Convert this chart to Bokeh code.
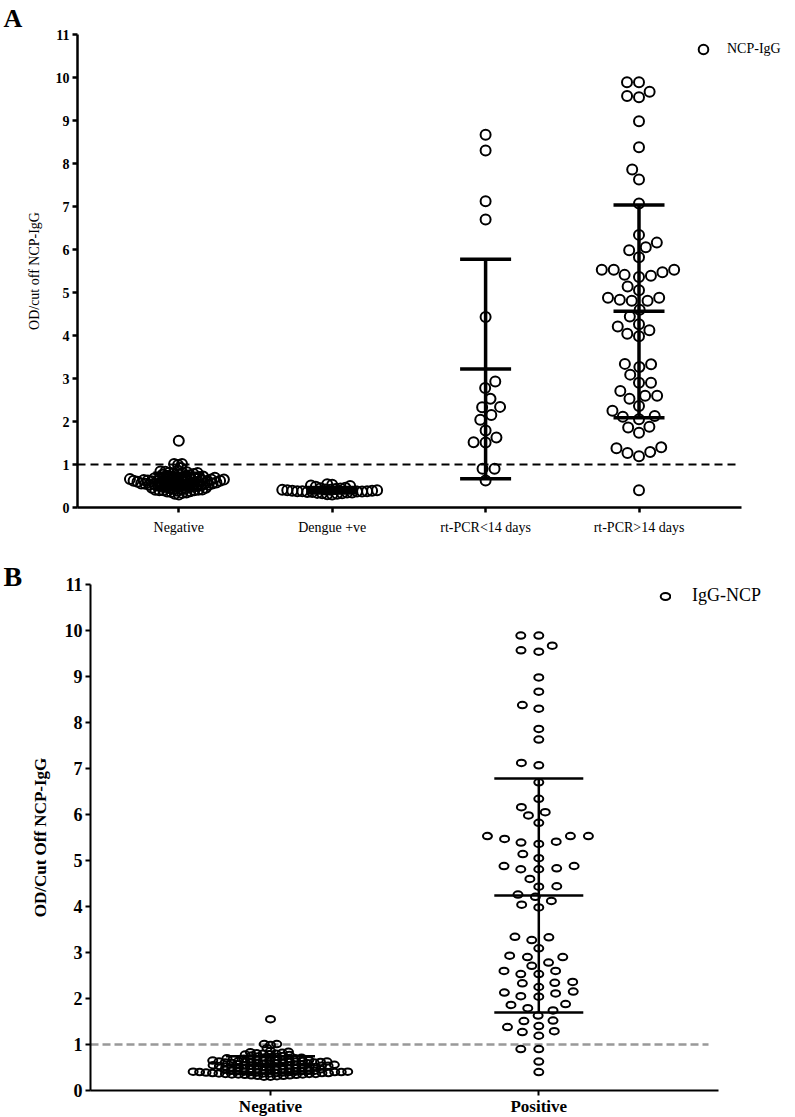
import numpy as np
from bokeh.plotting import figure
from bokeh.models import FixedTicker, Legend, LegendItem, ColumnDataSource
from bokeh.embed import file_html
from bokeh.resources import INLINE

# ---------------- data ----------------
categories_A = ["Negative", "Dengue +ve", "rt-PCR<14 days", "rt-PCR>14 days"]
categories_B = ["Negative", "Positive"]

negative = [1.55, 1.01, 0.99, 1.01, 0.92, 0.86,
            0.84, 0.83, 0.82, 0.81, 0.80, 0.80,
            0.79, 0.78, 0.77, 0.76, 0.75, 0.74, 0.73, 0.72, 0.72, 0.71, 0.70, 0.70,
            0.69, 0.69, 0.68, 0.68, 0.67, 0.67, 0.66, 0.66, 0.65, 0.65, 0.65, 0.64, 0.64,
            0.63, 0.63, 0.63, 0.62, 0.62, 0.62, 0.61, 0.61, 0.61, 0.60, 0.60, 0.60,
            0.59, 0.59, 0.58, 0.58, 0.57, 0.57, 0.56, 0.56, 0.55, 0.55, 0.55, 0.54, 0.54,
            0.53, 0.53, 0.52, 0.52, 0.51, 0.51, 0.50, 0.50, 0.50,
            0.49, 0.48, 0.47, 0.46, 0.46, 0.45, 0.44, 0.43, 0.43, 0.42, 0.41, 0.41, 0.40, 0.40, 0.40,
            0.39, 0.38, 0.37, 0.36, 0.35, 0.34, 0.32, 0.30]

dengue = [0.30, 0.31, 0.32, 0.33, 0.33, 0.34, 0.35, 0.35, 0.36, 0.36, 0.37, 0.37, 0.38, 0.38,
          0.38, 0.39, 0.39, 0.40, 0.40, 0.41, 0.41, 0.42, 0.43, 0.44, 0.45, 0.46, 0.48, 0.50,
          0.51, 0.53, 0.54]

pcr_lt14 = [8.67, 8.30, 7.12, 6.70, 4.43, 2.93, 2.78, 2.53, 2.34, 2.33, 2.15, 2.04, 1.79,
            1.63, 1.52, 1.51, 0.90, 0.90, 0.63]

pcr_gt14 = [9.89, 9.89, 9.67, 9.57, 9.54, 8.98, 8.38, 7.86, 7.63, 7.07,
            6.34, 6.16, 6.05, 5.98, 5.82,
            5.53, 5.53, 5.53, 5.47, 5.41, 5.39, 5.36,
            5.14, 5.05, 4.88, 4.88, 4.83, 4.81, 4.81,
            4.60, 4.44, 4.26, 4.21, 4.12, 4.04, 3.98,
            3.34, 3.33, 3.27, 3.09, 2.90, 2.90, 2.71, 2.60, 2.60, 2.53, 2.36, 2.25, 2.13, 2.11, 2.05,
            1.88, 1.86, 1.74, 1.40, 1.38, 1.29, 1.27, 1.19, 0.40]

cutoff = 1.0
y_ticks = list(range(0, 12))

groups_A = [negative, dengue, pcr_lt14, pcr_gt14]
groups_B = [negative + dengue, pcr_lt14 + pcr_gt14]

FONT = "Liberation Serif"
PAGE_W = 795


def swarm(values, ppu, dw, dh, max_half):
    """Greedy beeswarm offsets (pixels) for a column of values."""
    y = np.asarray(values, float) * ppu
    order = np.argsort(y, kind="stable")
    while True:
        xs = np.zeros(len(y))
        placed = []
        for i in order:
            yi = y[i] / dh
            near = [(px, py) for px, py in placed if abs(py - yi) < 1]
            cands = [0.0]
            for px, py in near:
                dx = np.sqrt(max(0.0, 1 - (py - yi) ** 2))
                cands += [px + dx, px - dx]
            cands.sort(key=lambda c: (round(abs(c), 9), c))
            for c in cands:
                if all((c - px) ** 2 + (yi - py) ** 2 >= 1 - 1e-9 for px, py in near):
                    xs[i] = c
                    break
            placed.append((xs[i], yi))
        xs = xs * dw
        if np.abs(xs).max() <= max_half or dw < 1:
            return xs
        dw *= 0.93
        dh *= 0.93


def make_panel(groups, cats, legend_label, letter, *, frame_left, frame_top, frame_bottom,
               fig_top, first_center, spacing, axis_right, dash_right, bottom_border,
               cap_half_px, bar_w, axis_w, dw, dh, max_half, marker, tick_size, tick_style,
               xlab_size, xlab_style, ylab, ylab_size, ylab_style, ylab_standoff,
               leg_size, leg_glyph, leg_center, leg_standoff, dash_color, dash, dash_w,
               x_standoff):
    ppu = (frame_bottom - frame_top) / 11.0
    ppx = spacing
    frame_w = PAGE_W - frame_left
    x_start = 1 - (first_center - frame_left) / ppx
    x_end = x_start + frame_w / ppx
    last_center = first_center + (len(cats) - 1) * spacing
    ax_end = len(cats) + (axis_right - last_center) / ppx
    dash_end = len(cats) + (dash_right - last_center) / ppx

    p = figure(frame_width=int(frame_w), frame_height=int(round(frame_bottom - frame_top)),
               x_range=(x_start, x_end), y_range=(0, 11),
               min_border_left=int(frame_left), min_border_right=0,
               min_border_top=int(frame_top - fig_top), min_border_bottom=bottom_border,
               output_backend="svg", toolbar_location=None)
    p.xgrid.visible = False
    p.ygrid.visible = False
    p.outline_line_color = None
    p.background_fill_color = "white"
    p.border_fill_color = "white"

    # panel letter as the plot title, shifted left over the axis area
    text, size, standoff = letter
    p.title.text = text
    p.title.align = "left"
    p.title.offset = -(frame_left - 3)
    p.title.text_font = FONT
    p.title.text_font_size = size
    p.title.text_font_style = "bold"
    p.title.text_color = "black"
    try:
        p.title.standoff = standoff
    except Exception:
        p.title.standoff = 0

    # cut-off line
    p.segment(x0=[x_start], y0=[cutoff], x1=[dash_end], y1=[cutoff], line_color=dash_color,
              line_width=dash_w, line_dash=dash)

    cap = cap_half_px / ppx
    first_r = None
    for gi, vals in enumerate(groups):
        pos = gi + 1
        offs = swarm(vals, ppu, dw, dh, max_half) / ppx
        src = ColumnDataSource(dict(x=pos + offs, y=vals))
        if marker == "circle":
            r = p.scatter("x", "y", source=src, marker="circle", size=10, fill_color=None,
                          line_color="black", line_width=2)
        else:
            r = p.ellipse("x", "y", source=src, width=9, height=6.5, width_units="screen",
                          height_units="screen", fill_color=None, line_color="black",
                          line_width=2)
        if first_r is None:
            first_r = r
    for gi, vals in enumerate(groups):
        pos = gi + 1
        m = float(np.mean(vals))
        s = float(np.std(vals, ddof=1))
        lo, hi = max(m - s, 0), m + s
        p.segment(x0=[pos], y0=[lo], x1=[pos], y1=[hi], line_color="black", line_width=bar_w)
        p.segment(x0=[pos - cap] * 3, y0=[lo, m, hi], x1=[pos + cap] * 3, y1=[lo, m, hi],
                  line_color="black", line_width=bar_w)

    # axes
    p.yaxis.ticker = FixedTicker(ticks=y_ticks)
    p.xaxis.ticker = FixedTicker(ticks=list(range(1, len(cats) + 1)))
    p.xaxis.major_label_overrides = {i + 1: c for i, c in enumerate(cats)}
    p.xaxis.bounds = (x_start, ax_end)
    for ax in (p.xaxis[0], p.yaxis[0]):
        ax.axis_line_color = "black"
        ax.axis_line_width = axis_w
        ax.major_tick_line_color = "black"
        ax.major_tick_line_width = axis_w
        ax.major_tick_out = 5
        ax.major_tick_in = 0
        ax.minor_tick_line_color = None
        ax.major_label_text_font = FONT
        ax.major_label_text_color = "black"
    p.yaxis.major_label_text_font_size = tick_size
    p.yaxis.major_label_text_font_style = tick_style
    p.yaxis.major_label_standoff = 3
    p.xaxis.major_label_text_font_size = xlab_size
    p.xaxis.major_label_text_font_style = xlab_style
    p.xaxis.major_label_standoff = x_standoff
    p.yaxis.axis_label = ylab
    p.yaxis.axis_label_text_font = FONT
    p.yaxis.axis_label_text_font_size = ylab_size
    p.yaxis.axis_label_text_font_style = ylab_style
    p.yaxis.axis_label_text_color = "black"
    p.yaxis.axis_label_standoff = ylab_standoff

    # legend
    gx, gy = leg_center
    vx = gx - frame_left - leg_glyph / 2
    vy = frame_bottom - gy - leg_glyph / 2
    legend = Legend(items=[LegendItem(label=legend_label, renderers=[first_r])],
                    location=(vx, vy), padding=0, margin=0, border_line_color=None,
                    background_fill_alpha=0, glyph_width=leg_glyph, glyph_height=leg_glyph,
                    label_height=leg_glyph, label_standoff=leg_standoff, label_text_font=FONT,
                    label_text_font_size=leg_size, label_text_color="black", spacing=0)
    p.add_layout(legend)
    return p


A_BOTTOM_BORDER = 45
pA = make_panel(groups_A, categories_A, "NCP-IgG", ("A", "26px", 3),
                frame_left=77, frame_top=34, frame_bottom=507, fig_top=0,
                first_center=178.3, spacing=153.4, axis_right=741, dash_right=737,
                bottom_border=A_BOTTOM_BORDER, cap_half_px=25.5, bar_w=3.5, axis_w=2.5,
                dw=12, dh=12, max_half=50, marker="circle",
                tick_size="14px", tick_style="bold", xlab_size="14px", xlab_style="normal",
                ylab="OD/cut off NCP-IgG", ylab_size="14px", ylab_style="normal",
                ylab_standoff=11, leg_size="14px", leg_glyph=24, leg_center=(703, 49),
                leg_standoff=12, dash_color="black", dash="8 5", dash_w=2.2, x_standoff=7)

top_B = 507 + A_BOTTOM_BORDER
pB = make_panel(groups_B, categories_B, "IgG-NCP", ("B", "28px", -15),
                frame_left=90, frame_top=584, frame_bottom=1090, fig_top=top_B,
                first_center=270, spacing=268.3, axis_right=718, dash_right=708,
                bottom_border=24, cap_half_px=44.5, bar_w=2.5, axis_w=2,
                dw=18, dh=9, max_half=88, marker="ellipse",
                tick_size="18px", tick_style="bold", xlab_size="17px", xlab_style="bold",
                ylab="OD/Cut Off NCP-IgG", ylab_size="17px", ylab_style="bold",
                ylab_standoff=12, leg_size="18px", leg_glyph=12, leg_center=(665, 600),
                leg_standoff=21, dash_color="#999999", dash="8 4", dash_w=2.5, x_standoff=1)

# two independent roots, stacked, so the two frames are not aligned to each other
open("out.html", "w").write(file_html([pA, pB], INLINE))
